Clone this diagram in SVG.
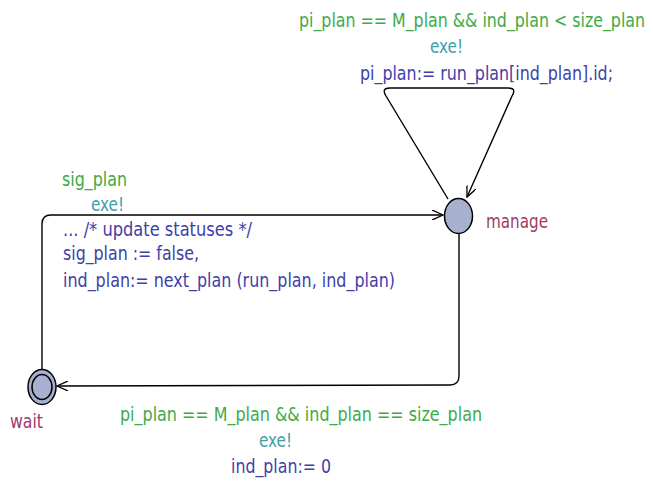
<svg xmlns="http://www.w3.org/2000/svg" width="653" height="485" viewBox="0 0 653 485">
<defs>
<marker id="arr" viewBox="0 0 12 10" refX="11" refY="5" markerWidth="12" markerHeight="10" markerUnits="userSpaceOnUse" orient="auto">
<path d="M0,0 L11,5 L0,10" fill="none" stroke="#000" stroke-width="1.3"/>
</marker>
<style>
text{font-family:"DejaVu Sans Condensed","DejaVu Sans",sans-serif;font-size:19.5px}
.g{fill:#3eaa48}.t{fill:#3fa0aa}.b{fill:#4040a8}.n{fill:#a03a68}
.e{fill:none;stroke:#000;stroke-width:1.4}
.loc{fill:#a8b0d0;stroke:#000;stroke-width:1.5}
</style>
</defs>
<rect width="653" height="485" fill="#fff"/>
<g id="connectors">
<path class="e" d="M448,199 L386,96 Q381,88 390,88 L508,88 Q517,88 512,96 L467,197" marker-end="url(#arr)"/>
<path class="e" d="M42,370 L42,224 Q42,215 51,215 L443,215" marker-end="url(#arr)"/>
<path class="e" d="M459,234 L459,376 Q459,385 450,385 L57,386" marker-end="url(#arr)"/>
</g>
<g id="manage">
<ellipse class="loc" cx="458.5" cy="216" rx="14" ry="17.5"/>
<text class="n" x="486" y="228" textLength="62" lengthAdjust="spacingAndGlyphs">manage</text>
</g>
<g id="wait">
<ellipse class="loc" cx="42" cy="387" rx="14" ry="17.5"/>
<ellipse class="loc" cx="42" cy="387" rx="10" ry="12.5"/>
<text class="n" x="10" y="428" textLength="33" lengthAdjust="spacingAndGlyphs">wait</text>
</g>
<g id="labels">
<text class="g" x="299" y="27" textLength="346" lengthAdjust="spacingAndGlyphs">pi_plan == M_plan &amp;&amp; ind_plan &lt; size_plan</text>
<text class="t" x="430" y="53" textLength="33" lengthAdjust="spacingAndGlyphs">exe!</text>
<text class="b" x="360" y="80" textLength="253" lengthAdjust="spacingAndGlyphs">pi_plan:= run_plan[ind_plan].id;</text>
<text class="g" x="62" y="186" textLength="65" lengthAdjust="spacingAndGlyphs">sig_plan</text>
<text class="t" x="91" y="211" textLength="33" lengthAdjust="spacingAndGlyphs">exe!</text>
<text class="b" x="63" y="236" textLength="189" lengthAdjust="spacingAndGlyphs">... /* update statuses */</text>
<text class="b" x="63" y="260" textLength="136" lengthAdjust="spacingAndGlyphs">sig_plan := false,</text>
<text class="b" x="63" y="287" textLength="332" lengthAdjust="spacingAndGlyphs">ind_plan:= next_plan (run_plan, ind_plan)</text>
<text class="g" x="120" y="421" textLength="362" lengthAdjust="spacingAndGlyphs">pi_plan == M_plan &amp;&amp; ind_plan == size_plan</text>
<text class="t" x="259" y="447" textLength="33" lengthAdjust="spacingAndGlyphs">exe!</text>
<text class="b" x="231" y="473" textLength="100" lengthAdjust="spacingAndGlyphs">ind_plan:= 0</text>
</g>
</svg>
